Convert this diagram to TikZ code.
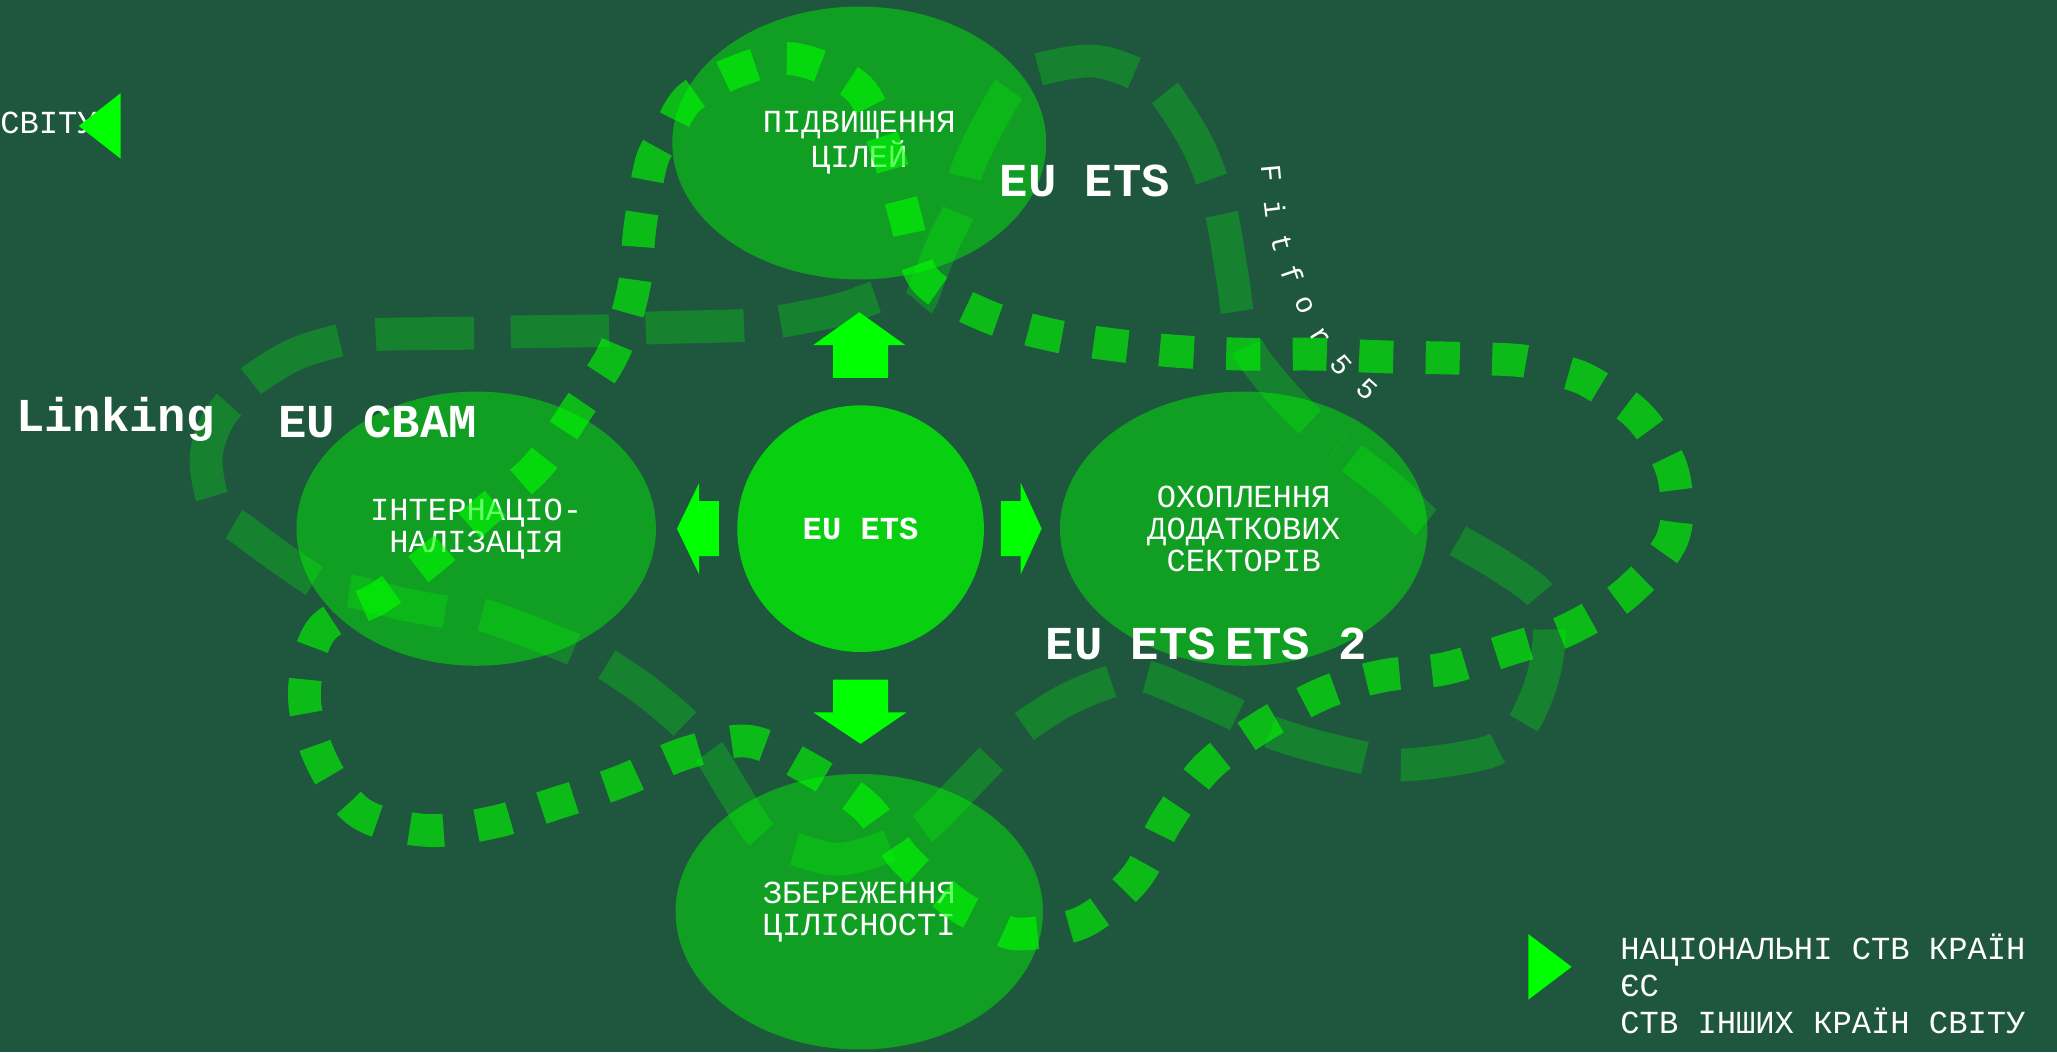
\documentclass[tikz,border=0pt]{standalone}
\usepackage{fontspec}
\setmainfont{Liberation Mono}
\usetikzlibrary{shapes.geometric}
\definecolor{bgc}{RGB}{30,87,62}
\definecolor{lime}{RGB}{0,255,0}
\tikzset{
  blob/.style={ellipse, fill=lime, fill opacity=0.43, text opacity=1, text=white, inner sep=0pt, align=center, font=\fontsize{24.5}{24.5}\selectfont},
  darkdash/.style={draw=lime, draw opacity=0.25, line width=25pt, dash pattern=on 75pt off 28pt, dash phase=89pt},
  brightdash/.style={draw=lime, draw opacity=0.6, line width=25pt},
  blockarrow/.style={fill=lime},
  biglabel/.style={text=white, font=\fontsize{36}{36}\bfseries\selectfont, inner sep=0pt},
  fitletter/.style={text=white, font=\fontsize{22}{22}\selectfont, inner sep=0pt},
  plain/.style={text=white, font=\fontsize{24.5}{28.5}\selectfont, inner sep=0pt}
}
\begin{document}
\begin{tikzpicture}[x=1pt,y=-1pt]
\fill[bgc] (0,0) rectangle (1568,802);
\useasboundingbox (0,0) rectangle (1568,802);

% circles
\node[blob, minimum width=285pt, minimum height=208pt] (top) at (655,109) {ПІДВИЩЕННЯ\\ЦІЛЕЙ};
\node[blob, minimum width=274pt, minimum height=209pt] (left) at (363,403) {ІНТЕРНАЦІО-\\НАЛІЗАЦІЯ};
\node[blob, minimum width=280pt, minimum height=209pt] (right) at (948,403) {ОХОПЛЕННЯ\\ДОДАТКОВИХ\\СЕКТОРІВ};
\node[blob, minimum width=280pt, minimum height=210pt] (bottom) at (655,695) {ЗБЕРЕЖЕННЯ\\ЦІЛІСНОСТІ};
\node[blob, fill opacity=0.72, minimum width=188pt, minimum height=188pt, font=\fontsize{24.5}{24.5}\bfseries\selectfont] (center) at (656,403) {EU ETS};

% dark dashed loop (drawn in pieces that meet in gaps)
\draw[darkdash] plot[smooth, tension=0.55] coordinates {
(182,301) (192,290) (225,270) (261,259) (288,255) (362,254) (390,253) (465,252)
(495,250) (570,248) (595,245) (640,236) (676,224) (687,229)};
\draw[darkdash] plot[smooth, tension=0.55] coordinates {
(687,229) (700,231) (709,210) (720,183) (732,158) (737,130) (755,92) (775,61)
(800,51) (838,47) (879,63) (897,84) (915,115) (928,150) (934,178) (940,215)
(945,248) (955,272) (982,305) (1010,332) (1020,340)};
\draw[darkdash] plot[smooth, tension=0.55] coordinates {
(1020,340) (1029,348) (1060,372) (1088,399) (1111,412) (1145,432) (1175,455) (1181,483)
(1175,520) (1159,555) (1138,572) (1100,580) (1065,583) (1037,577) (1000,568) (966,557)
(945,546) (905,528) (870,515) (845,520) (810,535) (775,558) (765,568)};
\draw[darkdash] plot[smooth, tension=0.55] coordinates {
(765,568) (756,578) (730,605) (705,630) (677,645) (640,655) (608,648) (582,638)
(560,605) (541,574) (520,550) (490,525) (460,505) (450,501)};
\draw[darkdash] plot[smooth, tension=0.55] coordinates {
(450,501) (437,495) (400,480) (365,468) (350,468) (310,461) (274,452) (246,446)
(215,426) (185,404) (165,388) (157,350) (166,320) (182,301)};

% bright dotted loop (pieces meeting in gaps)
\draw[brightdash, dash pattern=on 26pt off 24.7pt, dash phase=43.2pt] plot[smooth, tension=0.55] coordinates {
(511,98) (525,75) (560,55) (605,45) (655,68) (677,118) (690,165) (705,213) (750,240)
(800,255) (850,263) (900,268) (950,270) (1005,270) (1055,272) (1108,273) (1160,275) (1185,282)};
\draw[brightdash, dash pattern=on 26pt off 24.7pt, dash phase=39.7pt] plot[smooth, tension=0.55] coordinates {
(1185,282) (1210,290) (1250,318) (1275,360) (1275,410) (1240,452) (1195,480) (1150,495)
(1100,510) (1055,515) (1010,528) (960,555) (920,585) (890,625) (865,670) (825,703) (775,712) (752,701)};
\draw[brightdash, dash pattern=on 26pt off 25.3pt, dash phase=38.3pt] plot[smooth, tension=0.55] coordinates {
(752,701) (730,690) (690,655) (660,615) (615,585) (570,565) (520,575) (475,595) (425,612)
(375,627) (325,633) (275,620) (245,580) (232,530) (245,480) (290,455) (330,425) (370,390)
(410,355) (440,312) (468,268) (483,220) (488,172) (497,122) (511,98)};

% block arrows
\fill[blockarrow] (635,288) -- (635,263) -- (620,263) -- (655,238) -- (690,263) -- (677,263) -- (677,288) -- cycle;
\fill[blockarrow] (635,518) -- (677,518) -- (677,543) -- (691,543) -- (656,567) -- (620,543) -- (635,543) -- cycle;
\fill[blockarrow] (548,382) -- (533,382) -- (533,368) -- (516,403) -- (533,438) -- (533,424) -- (548,424) -- cycle;
\fill[blockarrow] (763,382) -- (778,382) -- (778,368) -- (794,403) -- (778,438) -- (778,424) -- (763,424) -- cycle;

% small triangles and their texts
\node[plain, anchor=west] (world) at (0,94) {СВІТУ};
\fill[blockarrow] (92,71) -- (92,121) -- (60,96) -- cycle;
\fill[blockarrow] (1165,712) -- (1165,762) -- (1198,737) -- cycle;
\node[plain, anchor=west, align=left] (legend) at (1235,750) {НАЦІОНАЛЬНІ СТВ КРАЇН\\ЄС\\СТВ ІНШИХ КРАЇН СВІТУ};

% bold labels
\node[biglabel] (ets1) at (827,138) {EU ETS};
\node[biglabel] (linking) at (88,320) {Linking};
\node[biglabel] (cbam) at (288,322) {EU CBAM};
\node[biglabel] (ets2) at (862,491) {EU ETS};
\node[biglabel] (ets3) at (988,491) {ETS 2};

% Fit for 55
\node[fitletter, rotate=-85] (f1) at (969,132) {F};
\node[fitletter, rotate=-83] (f2) at (972,159) {i};
\node[fitletter, rotate=-76] (f3) at (977,186) {t};
\node[fitletter, rotate=-71] (f4) at (985,209) {f};
\node[fitletter, rotate=-66] (f5) at (994,233) {o};
\node[fitletter, rotate=-58] (f6) at (1006,257) {r};
\node[fitletter, rotate=-50] (f7) at (1022,278) {5};
\node[fitletter, rotate=-42] (f8) at (1042,297) {5};
\end{tikzpicture}
\end{document}
